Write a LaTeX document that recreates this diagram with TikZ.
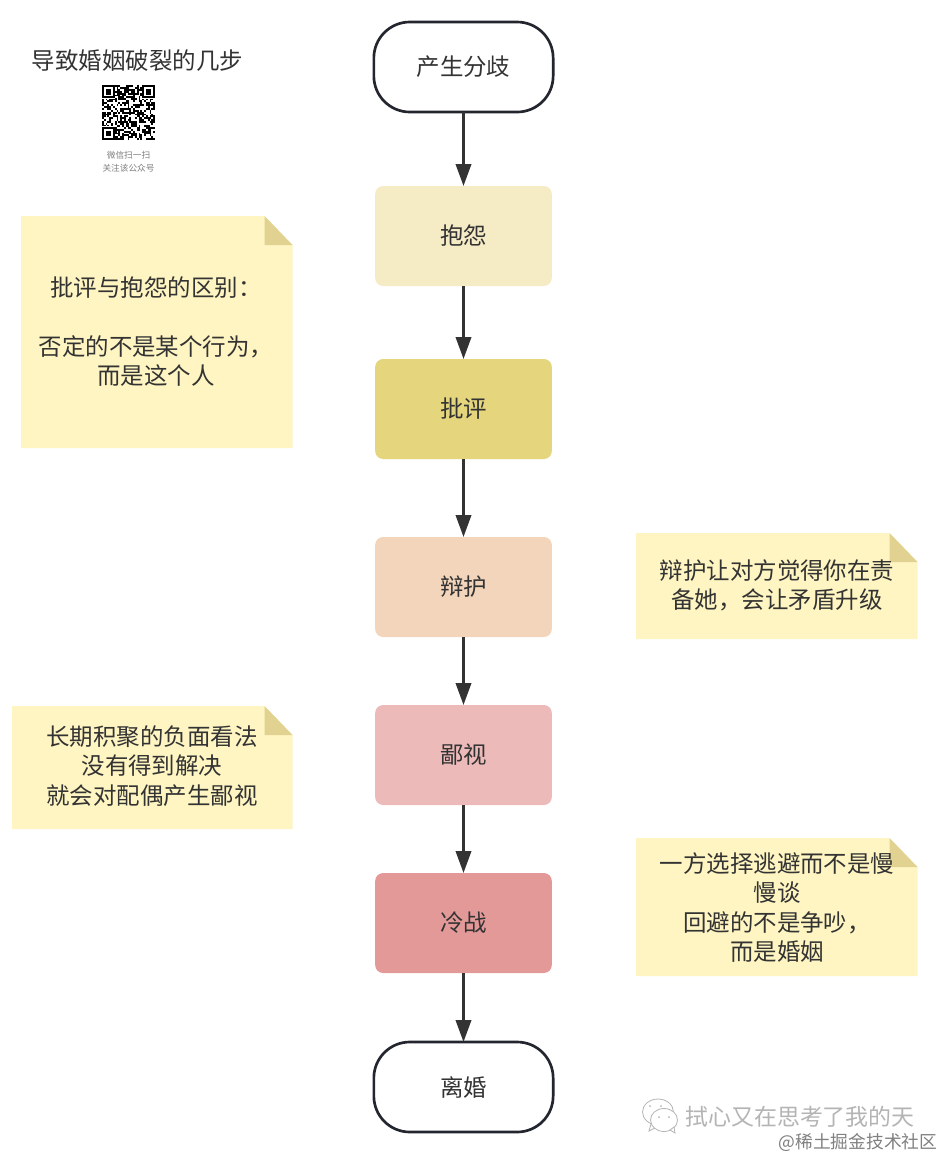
\documentclass[tikz,border=0pt]{standalone}
\usepackage{fontspec}
\setmainfont{Noto Sans CJK SC}
\usetikzlibrary{arrows.meta}
\definecolor{ink}{HTML}{333333}
\definecolor{edgec}{HTML}{23262E}
\definecolor{notefill}{HTML}{FEF5C2}
\definecolor{foldfill}{HTML}{E1D291}
\definecolor{wm}{HTML}{B4B4B4}
\definecolor{sa}{HTML}{F5ECC6}
\definecolor{sb}{HTML}{E5D67E}
\definecolor{sc}{HTML}{F2D5BA}
\definecolor{sd}{HTML}{EDBABA}
\definecolor{se}{HTML}{E49999}
\newcommand{\notebox}[5]{%
  \path[fill=notefill] (#2,#3) -- (#4-28,#3) -- (#4,#3+29) -- (#4,#5) -- (#2,#5) -- cycle;
  \path[fill=foldfill] (#4-28,#3) -- (#4,#3+29) -- (#4-28,#3+29) -- cycle;
  \coordinate (#1) at (#2,#3);}
\tikzset{
  x=0.75pt,y=-0.75pt,
  base/.style={inner sep=0pt,outer sep=0pt,text=ink,font=\fontsize{17.6pt}{21.9pt}\selectfont},
  stepbox/.style={base,rectangle,rounded corners=6pt,minimum width=132.5pt,minimum height=75pt,fill=#1},
  endbox/.style={base,rectangle,rounded corners=27pt,minimum width=134.5pt,minimum height=67.5pt,draw=edgec,line width=2pt,fill=white},
  notetext/.style={base,align=center},
  flow/.style={draw=ink,line width=2pt,-{Triangle[length=16.5pt,width=11.5pt]}},
}
\begin{document}
\begin{tikzpicture}
\useasboundingbox (0,0) rectangle (944,1158);
\fill[white] (0,0) rectangle (944,1158);
% notes
\notebox{n1}{21}{216}{292.5}{448}
\notebox{n2}{636}{533}{917.5}{639}
\notebox{n3}{12}{706}{292.5}{829}
\notebox{n4}{636}{838}{917.5}{976}
\node[notetext] (t1a) at (156,288) {批评与抱怨的区别：};
\node[notetext] (t1b) at (156,361) {否定的不是某个行为，\\而是这个人};
\node[notetext] (t2) at (777,585) {辩护让对方觉得你在责\\备她，会让矛盾升级};
\node[notetext] (t3) at (152,766) {长期积聚的负面看法\\没有得到解决\\就会对配偶产生鄙视};
\node[notetext] (t4) at (777,907.5) {一方选择逃避而不是慢\\慢谈\\回避的不是争吵，\\而是婚姻};
% flow nodes
\node[endbox] (a) at (463.5,67) {产生分歧};
\node[stepbox=sa] (b) at (463.5,236) {抱怨};
\node[stepbox=sb] (c) at (463.5,409) {批评};
\node[stepbox=sc] (d) at (463.5,587) {辩护};
\node[stepbox=sd] (e) at (463.5,755) {鄙视};
\node[stepbox=se] (f) at (463.5,923) {冷战};
\node[endbox] (g) at (463.5,1087) {离婚};
\draw[flow] (a) -- (b);
\draw[flow] (b) -- (c);
\draw[flow] (c) -- (d);
\draw[flow] (d) -- (e);
\draw[flow] (e) -- (f);
\draw[flow] (f) -- (g);
% title
\node[notetext] (title) at (137.5,61) {导致婚姻破裂的几步};
% QR code
\begin{scope}[shift={(102,85)}]
\pgfmathsetseed{4711}
\foreach \i in {0,...,28}{\foreach \j in {0,...,28}{
  \pgfmathrandominteger{\r}{0}{99}
  \ifnum\r<52 \fill[black] ({\i*1.83},{\j*1.9}) rectangle ++(1.83,1.9);\fi
}}
\foreach \cx/\cy in {0/0,22/0,0/22}{
  \fill[white] ({\cx*1.83-0.5},{\cy*1.9-0.5}) rectangle ++({7*1.83+1},{7*1.9+1});
  \fill[black] ({\cx*1.83},{\cy*1.9}) rectangle ++({7*1.83},{7*1.9});
  \fill[white] ({(\cx+1)*1.83},{(\cy+1)*1.9}) rectangle ++({5*1.83},{5*1.9});
  \fill[black] ({(\cx+2)*1.83},{(\cy+2)*1.9}) rectangle ++({3*1.83},{3*1.9});
}
\end{scope}
\node[base,text=black!50,font=\fontsize{6.5pt}{9.75pt}\selectfont,align=center] (qrcap) at (128.5,161.5) {微信扫一扫\\关注该公众号};
% watermark
\begin{scope}[draw=wm,line width=0.6pt,fill=white]
\filldraw (658,1112) ellipse [x radius=15.5,y radius=13];
\filldraw (651,1124) -- (649,1131) -- (657,1127) -- cycle;
\filldraw (664,1120) ellipse [x radius=13.5,y radius=11.5];
\filldraw (670,1130) -- (675,1133) -- (674,1127) -- cycle;
\fill[wm] (650,1106) circle (1) (661,1106) circle (1) (659,1117) circle (1) (669,1117) circle (1);
\end{scope}
\node[base,text=wm,font=\fontsize{17.2pt}{20pt}\selectfont] (wm1) at (800,1117) {拭心又在思考了我的天};
\node[base,text=black!50,font=\fontsize{13.3pt}{16pt}\selectfont] (wm2) at (858,1142) {@稀土掘金技术社区};
\end{tikzpicture}
\end{document}
